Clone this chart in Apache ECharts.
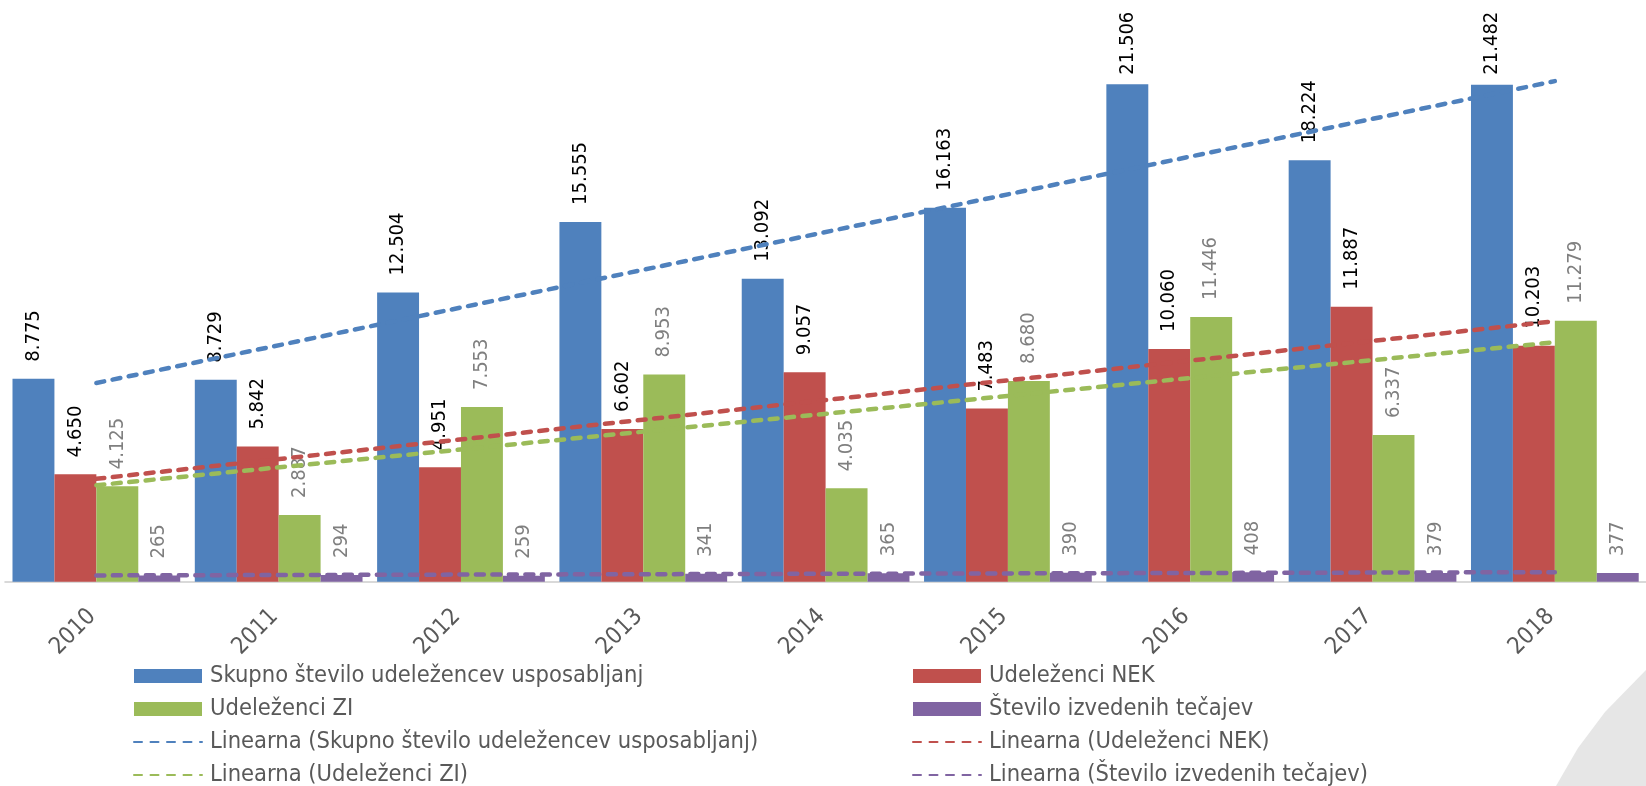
<!DOCTYPE html>
<html>
<head>
<meta charset="utf-8">
<script src="https://cdn.jsdelivr.net/npm/echarts@6/dist/echarts.min.js"></script>
<style>
html,body{margin:0;padding:0;background:#fff;}
#chart{width:1646px;height:786px;}
</style>
</head>
<body>
<div id="chart"></div>
<script>
const categories = ['2010','2011','2012','2013','2014','2015','2016','2017','2018'];
const totalParticipants = [8775, 8729, 12504, 15555, 13092, 16163, 21506, 18224, 21482];
const nekParticipants = [4650, 5842, 4951, 6602, 9057, 7483, 10060, 11887, 10203];
const ziParticipants = [4125, 2887, 7553, 8953, 4035, 8680, 11446, 6337, 11279];
const courses = [265, 294, 259, 341, 365, 390, 408, 379, 377];
// trendline values (at 2010 and at 2018)
const trendStart = [8590, 4450, 4170, 272];
const trendEnd = [21640, 11260, 10350, 412];

const names = ['Skupno število udeležencev usposabljanj','Udeleženci NEK','Udeleženci ZI','Število izvedenih tečajev'];
const trendNames = names.map(n => 'Linearna (' + n + ')');
const colors = ['#4f81bd','#c0504d','#9bbb59','#8064a2'];
const labelColors = ['#000000','#000000','#7f7f7f','#7f7f7f'];
const FONT = "'DejaVu Sans Condensed','DejaVu Sans',sans-serif";
const LABEL_DIST = 17;
const LABEL_TOP_LIMIT = 11.7;

function fmt(v){ return String(v).replace(/\B(?=(\d{3})+(?!\d))/g, '.'); }

const barData = [totalParticipants, nekParticipants, ziParticipants, courses];
const series = [];
barData.forEach((d, i) => {
  series.push({
    name: names[i], type: 'bar', data: d,
    barGap: '0%', barCategoryGap: '8%',
    itemStyle: { color: colors[i] },
    label: {
      show: true, position: 'top', rotate: 90, align: 'left', verticalAlign: 'middle',
      distance: LABEL_DIST, color: labelColors[i], fontFamily: FONT, fontSize: 20,
      formatter: p => fmt(p.value)
    },
    labelLayout: function (params) {
      const lr = params.labelRect;
      if (lr && lr.y < LABEL_TOP_LIMIT) {
        return { y: params.rect.y - LABEL_DIST + (LABEL_TOP_LIMIT - lr.y) };
      }
      return {};
    }
  });
});
barData.forEach((d, i) => {
  series.push({
    name: trendNames[i], type: 'line', symbol: 'none', z: 5,
    data: [[categories[0], trendStart[i]], [categories[categories.length-1], trendEnd[i]]],
    lineStyle: { color: colors[i], width: 4.5, type: [8, 8.5], cap: 'round' },
    itemStyle: { color: colors[i] }
  });
});

function legendItem(nm) {
  return nm.indexOf('Linearna') === 0
    ? { name: nm, itemStyle: { opacity: 0, color: 'rgba(0,0,0,0)', borderWidth: 0 } }
    : { name: nm, icon: 'rect' };
}
const legendCommon = {
  orient: 'vertical', itemWidth: 68, itemHeight: 14, itemGap: 9, top: 664, height: 140,
  selectedMode: false, padding: 0,
  textStyle: { fontFamily: FONT, fontSize: 23.5, color: '#595959', padding: [0, 0, 0, 3] }
};

const chart = echarts.init(document.getElementById('chart'));
chart.setOption({
  animation: false,
  backgroundColor: '#ffffff',
  grid: { left: 5.2, width: 1656, top: 3.4, bottom: 204.3, containLabel: false },
  xAxis: {
    type: 'category', data: categories,
    axisLine: { lineStyle: { color: '#d9d9d9', width: 2 } },
    axisTick: { show: false },
    axisLabel: { rotate: 45, margin: 27, padding: [0, 6, 0, 0], color: '#595959', fontFamily: FONT, fontSize: 23.5 }
  },
  yAxis: { type: 'value', min: 0, max: 25000, show: false, splitLine: { show: false } },
  legend: [
    Object.assign({}, legendCommon, { left: 133, data: [names[0], names[2], trendNames[0], trendNames[2]].map(legendItem) }),
    Object.assign({}, legendCommon, { left: 912, data: [names[1], names[3], trendNames[1], trendNames[3]].map(legendItem) })
  ],
  graphic: [{
    type: 'polygon', silent: true, z: -10,
    shape: { points: [[1556,786],[1578,748],[1605,712],[1646,670],[1646,786]] },
    style: { fill: '#e6e6e6' }
  }],
  series: series
});
</script>
</body>
</html>
